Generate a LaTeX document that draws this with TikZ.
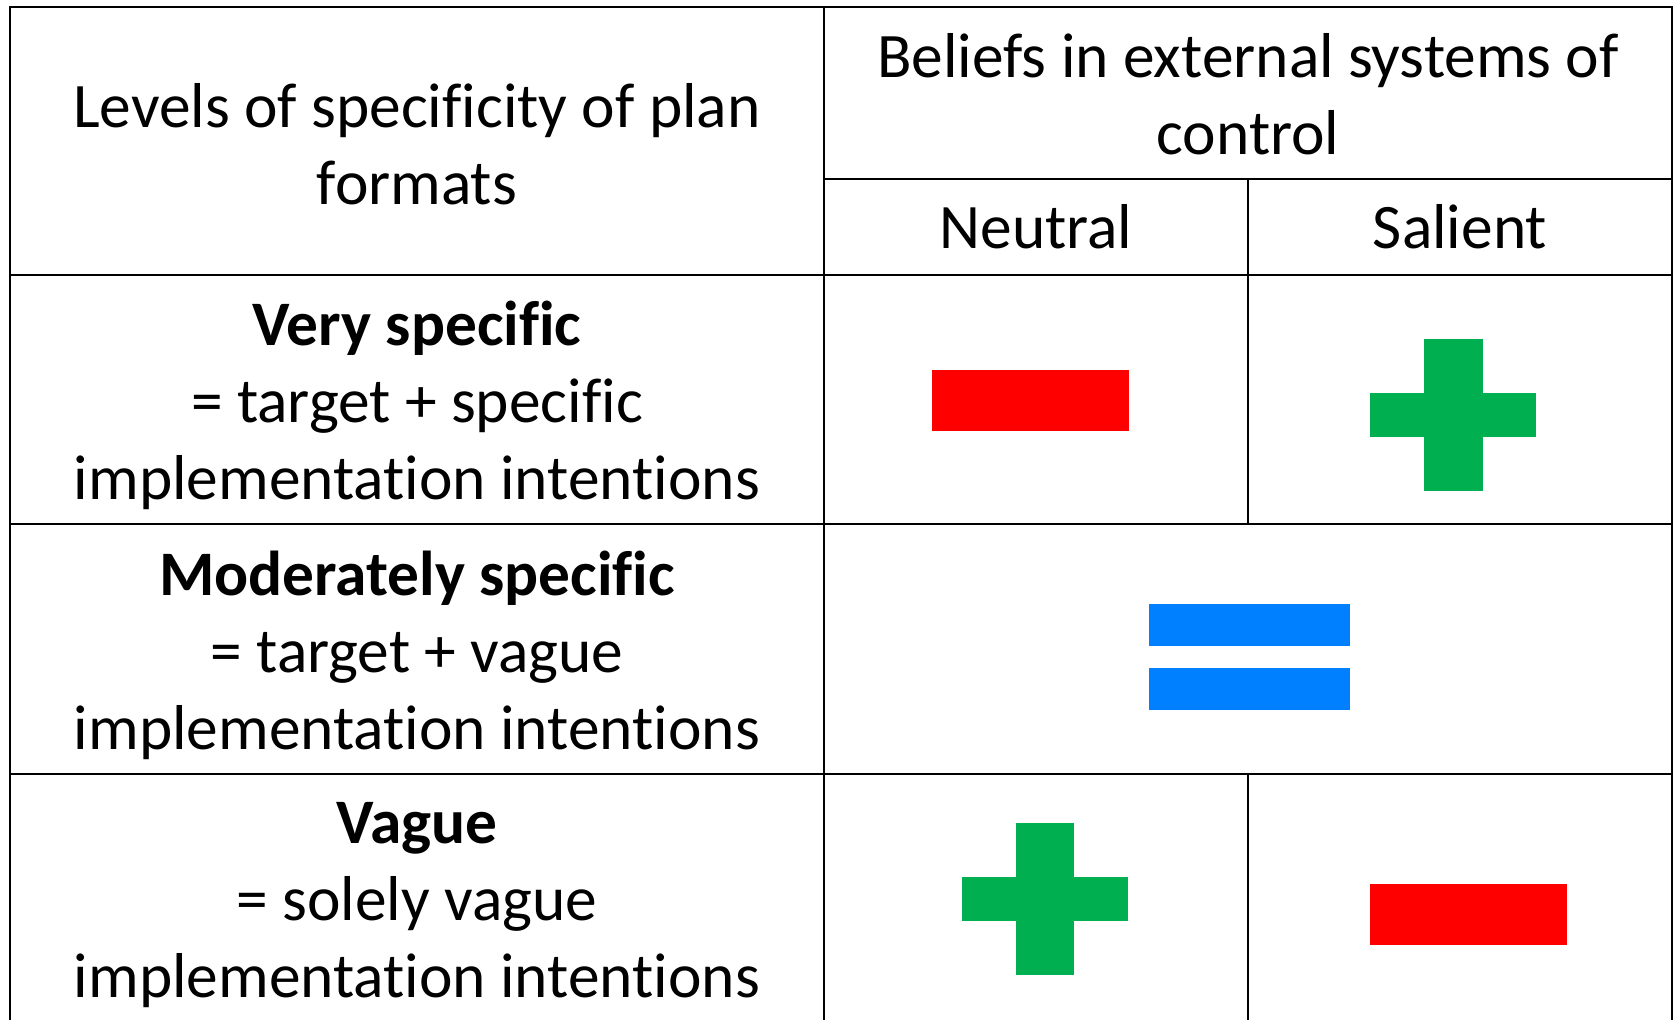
\documentclass[tikz,border=0pt]{standalone}
\usepackage{fontspec}
\setmainfont[Ligatures={NoCommon}]{Carlito}
\definecolor{minusred}{RGB}{255,0,0}
\definecolor{plusgreen}{RGB}{0,176,80}
\definecolor{equalblue}{RGB}{0,128,255}
\tikzset{cell/.style={align=center,inner sep=0pt,font=\fontsize{31.7}{38.5}\selectfont}}

\begin{document}
\begin{tikzpicture}[x=0.5pt,y=-0.5pt,line width=1.1pt]
                \useasboundingbox (0,0) rectangle (1674,1020);
                % grid of the table
                \draw (10,1020) -- (10,7) -- (1672,7) -- (1672,1020);
                \draw (824,7) -- (824,1020);
                \draw (824,179) -- (1672,179);
                \foreach \y in {275,524,774}
                    \draw (10,\y) -- (1672,\y);
                \draw (1248,179) -- (1248,524);
                \draw (1248,774) -- (1248,1020);
                % header texts
                \node[cell] (levels) at (417,144) {Levels of specificity of plan\\formats};
                \node[cell] (beliefs) at (1248,94) {Beliefs in external systems of\\control};
                \node[cell] (neutral) at (1036,227) {Neutral};
                \node[cell] (salient) at (1460,227) {Salient};
                % row texts
                \node[cell] (very) at (417,405) {\textbf{Very specific}\\= target + specific\\implementation intentions};
                \node[cell] (moderate) at (417,655) {\textbf{Moderately specific}\\= target + vague\\implementation intentions};
                \node[cell] (vague) at (417,905) {\textbf{Vague}\\= solely vague\\implementation intentions};
                % signs
                \fill[minusred] (932,370) rectangle (1129,431);
                \fill[plusgreen] (1424,339) rectangle (1483,491);
                \fill[plusgreen] (1370,393) rectangle (1536,437);
                \fill[equalblue] (1149,604) rectangle (1350,646);
                \fill[equalblue] (1149,668) rectangle (1350,710);
                \fill[plusgreen] (1016,823) rectangle (1074,975);
                \fill[plusgreen] (962,877) rectangle (1128,921);
                \fill[minusred] (1370,884) rectangle (1567,945);
            \end{tikzpicture}
\end{document}
